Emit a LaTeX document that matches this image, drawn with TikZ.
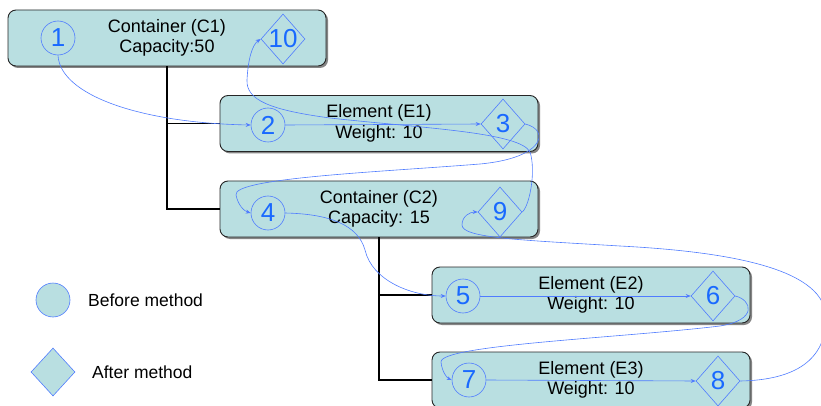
\documentclass[tikz,border=0pt]{standalone}
\usepackage{fontspec}
\setmainfont{Liberation Sans}
\usetikzlibrary{shapes.geometric,arrows.meta,shadows}
\definecolor{boxfill}{RGB}{185,223,225}
\definecolor{flowblue}{RGB}{80,124,255}
\definecolor{numblue}{RGB}{25,105,255}

\begin{document}
\begin{tikzpicture}[x=1pt,y=-1pt,
  objbox/.style={draw=black!85, line width=0.9pt, fill=boxfill, rounded corners=8pt,
    minimum width=318pt, minimum height=56pt, align=center,
    font=\fontsize{18}{20.5}\selectfont,
    drop shadow={shadow xshift=2pt, shadow yshift=-2pt, fill=black!60, opacity=0.8}},
  before/.style={circle, draw=flowblue, line width=0.6pt, minimum size=34pt,
    inner sep=0pt, text=numblue, font=\fontsize{26}{26}\selectfont},
  after/.style={diamond, draw=flowblue, line width=0.6pt, minimum width=44pt,
    minimum height=50pt, inner sep=0pt},
  num/.style={text=numblue, font=\fontsize{26}{26}\selectfont, inner sep=0pt},
  tree/.style={line width=1.6pt, black},
  flow/.style={flowblue, line width=0.6pt, -{Stealth[length=5pt,width=4pt]}},
  legendtext/.style={anchor=west, inner sep=0pt, font=\fontsize{17.5}{20}\selectfont}
]
\useasboundingbox (0,0) rectangle (821,406);

% object boxes
\node[objbox] (C1) at (167,38)    {Container (C1)\\Capacity:50};
\node[objbox] (E1) at (379,123.5) {Element (E1)\\Weight: 10};
\node[objbox] (C2) at (379,209)   {Container (C2)\\Capacity: 15};
\node[objbox] (E2) at (591,295)   {Element (E2)\\Weight: 10};
\node[objbox] (E3) at (591,380)   {Element (E3)\\Weight: 10};

% containment tree
\draw[tree] (C1.south) |- (E1.west);
\draw[tree] (C1.south) |- (C2.west);
\draw[tree] (C2.south) |- (E2.west);
\draw[tree] (C2.south) |- (E3.west);

% before / after markers
\node[before] (n1) at (58,38)  {1};
\node[after, label={[num]center:10}] (n10) at (283,39) {};
\node[before] (n2) at (268,125) {2};
\node[after, label={[num]center:3}] (n3) at (503,124) {};
\node[before] (n4) at (268,213) {4};
\node[after, label={[num]center:9}] (n9) at (500,212) {};
\node[before] (n5) at (463,296) {5};
\node[after, label={[num]center:6}] (n6) at (713,296) {};
\node[before] (n7) at (469,380) {7};
\node[after, label={[num]center:8}] (n8) at (718,381) {};

% legend
\node[before, fill=boxfill] (lb) at (53,300) {};
\node[legendtext] (lbt) at (88,300) {Before method};
\node[after, fill=boxfill, minimum height=48pt] (la) at (53,372) {};
\node[legendtext] (lat) at (92,372) {After method};

% visiting order
\draw[flow] (n1.south) .. controls (60,95) and (140,123) .. (n2.west);
\draw[flow] (n2.east) -- (n3.west);
\draw[flow] (n3.east) .. controls (550,130) and (545,158) .. (480,164)
  .. controls (380,172) and (232,178) .. (236,195)
  .. controls (238,205) and (244,211) .. (n4.west);
\draw[flow] (n4.east) .. controls (330,214) and (358,225) .. (365,250)
  .. controls (372,280) and (410,296) .. (n5.west);
\draw[flow] (n5.east) -- (n6.west);
\draw[flow] (n6.east) .. controls (752,300) and (758,320) .. (720,326)
  .. controls (620,338) and (440,345) .. (441,362)
  .. controls (442,372) and (447,378) .. (n7.west);
\draw[flow] (n7.east) -- (n8.west);
\draw[flow] (n8.east) .. controls (795,380) and (826,360) .. (826,318)
  .. controls (826,270) and (735,252) .. (620,246)
  .. controls (520,240) and (462,238) .. (462,225)
  .. controls (462,216) and (470,212) .. (n9.west);
\draw[flow] (n9.east) .. controls (530,205) and (536,170) .. (530,152)
  .. controls (520,132) and (420,128) .. (330,118)
  .. controls (270,110) and (246,100) .. (247,80)
  .. controls (248,60) and (252,45) .. (n10.west);
\end{tikzpicture}
\end{document}
